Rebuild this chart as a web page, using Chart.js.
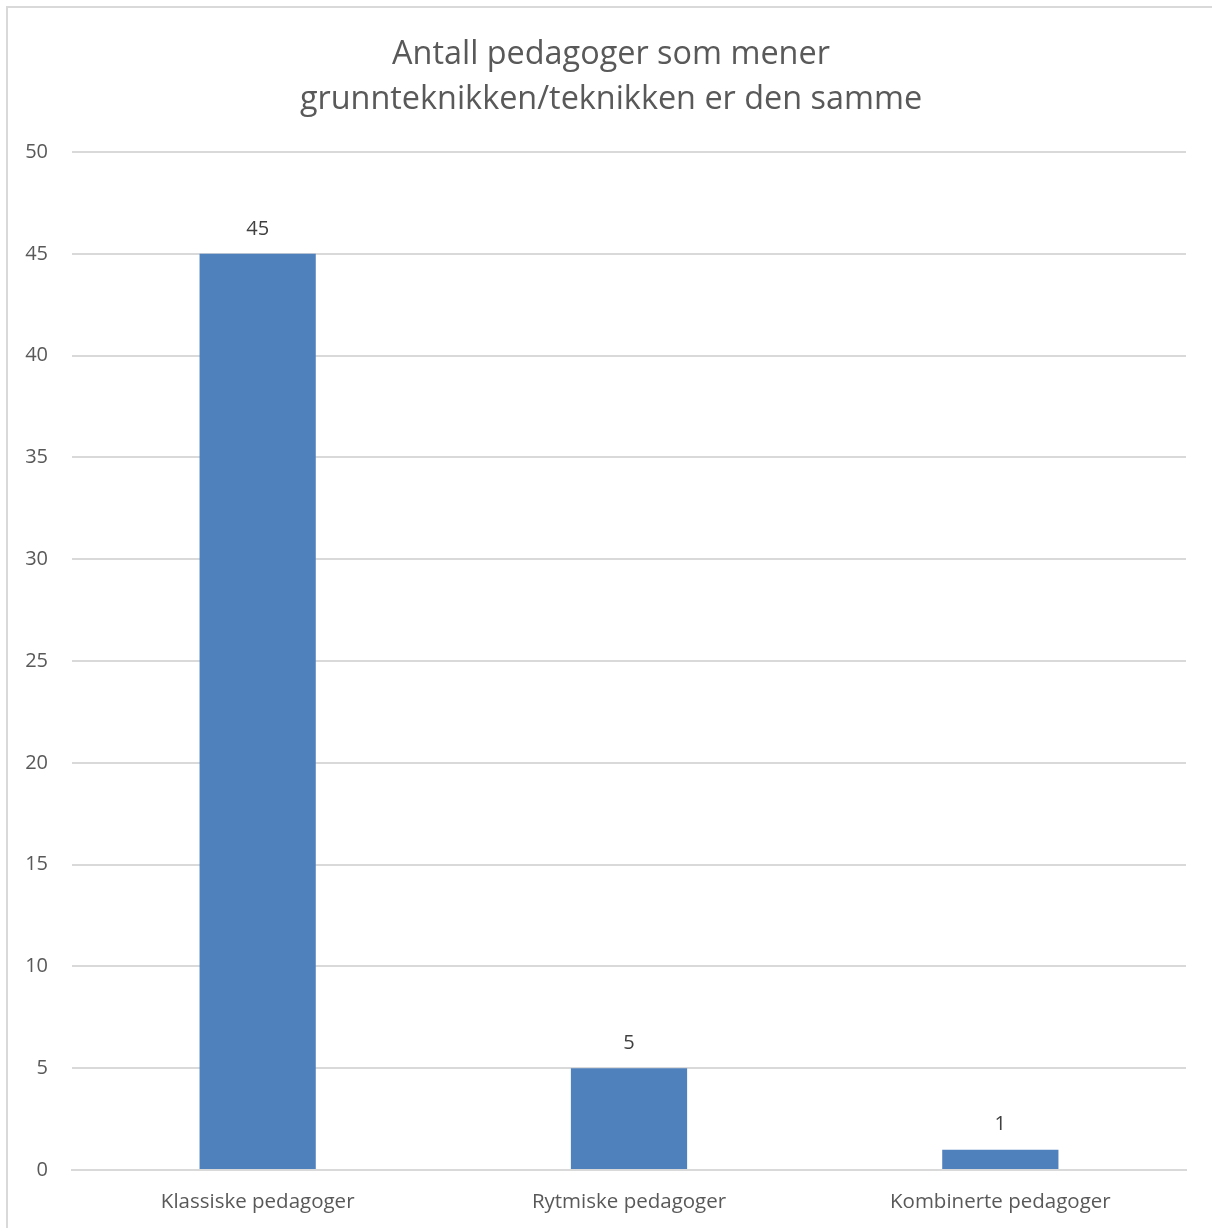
<!DOCTYPE html>
<html>
<head>
<meta charset="utf-8">
<script src="https://cdn.jsdelivr.net/npm/chart.js@4"></script>
<style>
  html, body { margin: 0; padding: 0; background: #fff; overflow: hidden; }
  #box {
    position: absolute; left: 6px; top: 6px;
    width: 1210px; height: 1230px;
    border: 2px solid #d9d9d9; box-sizing: border-box;
  }
  #wrap { position: absolute; left: -1px; top: -1px; width: 1208px; height: 1221px; }
</style>
</head>
<body>
<div id="box"><div id="wrap"><canvas id="chart"></canvas></div></div>
<script>
const titleLines = ['Antall pedagoger som mener', 'grunnteknikken/teknikken er den samme'];
const categories = ['Klassiske pedagoger', 'Rytmiske pedagoger', 'Kombinerte pedagoger'];
const values = [45, 5, 1];
const yTicks = [0, 5, 10, 15, 20, 25, 30, 35, 40, 45, 50];

const fontFam = '"Open Sans", Lato, sans-serif';

// verdier over søylene
const valueLabels = {
    id: 'valueLabels',
    afterDatasetsDraw(chart) {
        const { ctx } = chart;
        const meta = chart.getDatasetMeta(0);
        ctx.save();
        ctx.font = '20px ' + fontFam;
        ctx.fillStyle = '#404040';
        ctx.textAlign = 'center';
        ctx.textBaseline = 'middle';
        meta.data.forEach((bar, i) => {
            ctx.fillText(values[i], bar.x, bar.y - 25);
        });
        ctx.restore();
    }
};

// titel midden over hele breedte
const centerTitle = {
    id: 'centerTitle',
    afterLayout(chart) {
        if (chart.titleBlock) {
            chart.titleBlock.left = 0;
            chart.titleBlock.right = chart.width;
        }
    }
};

new Chart(document.getElementById('chart').getContext('2d'), {
    type: 'bar',
    data: {
        labels: categories,
        datasets: [{
            data: values,
            backgroundColor: '#4f81bd',
            categoryPercentage: 1,
            barPercentage: 0.313
        }]
    },
    options: {
        responsive: true,
        maintainAspectRatio: false,
        animation: false,
        layout: { padding: { left: 0, right: 29, top: 0, bottom: 0 } },
        plugins: {
            legend: { display: false },
            tooltip: { enabled: false },
            title: {
                display: true,
                text: titleLines,
                color: '#595959',
                font: { family: fontFam, size: 32.4, weight: 'normal', lineHeight: 1.39 },
                padding: { top: 25, bottom: 30 }
            }
        },
        scales: {
            x: {
                grid: { display: false, drawTicks: false },
                border: { color: '#d9d9d9', width: 2 },
                ticks: { color: '#595959', font: { family: fontFam, size: 20.5 }, padding: 20 },
                afterFit(scale) { scale.height = 58; }
            },
            y: {
                min: 0,
                max: 50,
                afterBuildTicks(scale) { scale.ticks = yTicks.map(v => ({ value: v })); },
                grid: { color: '#d9d9d9', lineWidth: 2, drawTicks: false },
                border: { display: false },
                ticks: { color: '#595959', font: { family: fontFam, size: 20 }, padding: 24 },
                afterFit(scale) { scale.width = 65; }
            }
        }
    },
    plugins: [valueLabels, centerTitle]
});
</script>
</body>
</html>
